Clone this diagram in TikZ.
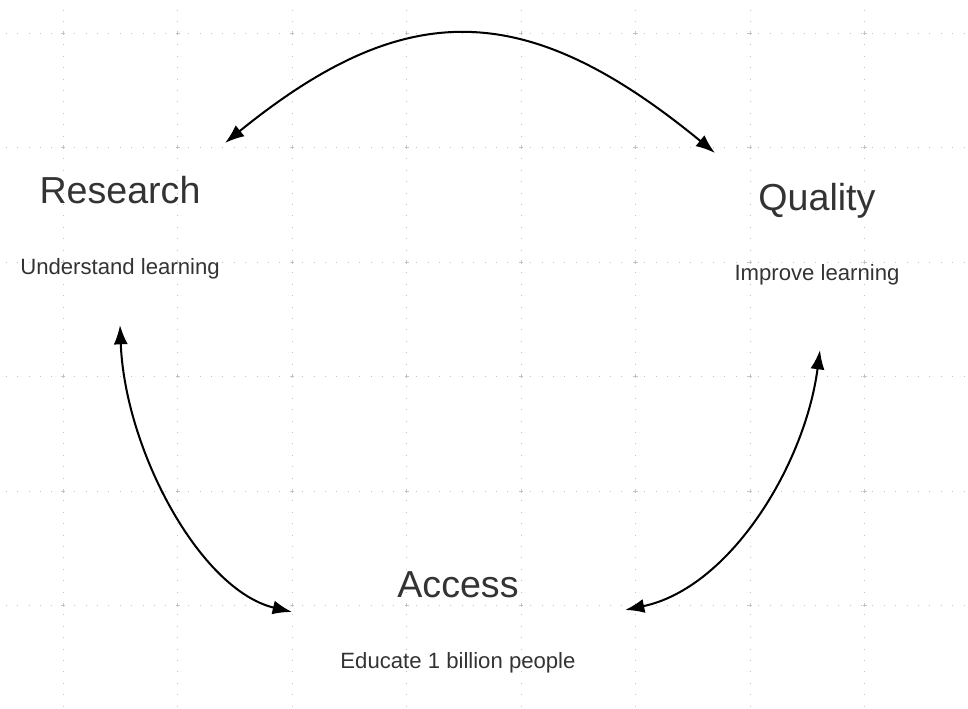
\documentclass[tikz,border=0pt]{standalone}
\usepackage{fontspec}
\setmainfont{Liberation Sans}
\usetikzlibrary{arrows.meta}
\definecolor{textgray}{RGB}{51,51,51}
\definecolor{dotgray}{RGB}{195,195,195}
\tikzset{
  title/.style={anchor=base, text=textgray, inner sep=0pt, font=\fontsize{21.4}{25}\selectfont},
  subtitle/.style={anchor=base, text=textgray, inner sep=0pt, font=\fontsize{12.6}{15}\selectfont},
  cycle/.style={line width=1.15pt, {Latex[length=11pt,width=8pt]}-{Latex[length=11pt,width=8pt]}},
  gridline/.style={dotgray, line width=0.55pt, dash pattern=on 0.55pt off 5.94pt},
}
\begin{document}
\begin{tikzpicture}[x=0.02cm, y=-0.02cm]
	\useasboundingbox (0,0) rectangle (968,709);

	\newcommand*{\gs}{114.5} % grid step

	% dotted grid
	\foreach \i in {0,...,7}
		\draw[gridline] ({63+\i*\gs},10.1) -- ({63+\i*\gs},709);
	\foreach \j in {0,...,5}
		\draw[gridline] (5.75,{33+\j*\gs}) -- (968,{33+\j*\gs});
	\foreach \i in {0,...,7}
		\foreach \j in {0,...,5}
			\draw[dotgray, line width=0.5pt] ({63+\i*\gs-2},{33+\j*\gs}) -- ({63+\i*\gs+2},{33+\j*\gs})
				({63+\i*\gs},{33+\j*\gs-2}) -- ({63+\i*\gs},{33+\j*\gs+2});

	% labels
	\node[title] (research) at (120,204) {Research};
	\node[subtitle] (researchsub) at (120,275) {Understand learning};
	\node[title] (quality) at (817,211) {Quality};
	\node[subtitle] (qualitysub) at (817,281) {Improve learning};
	\node[title] (access) at (458,598) {Access};
	\node[subtitle] (accesssub) at (458,669) {Educate 1 billion people};

	% ends of the arrows
	\coordinate (rtop) at (225,143);
	\coordinate (rbot) at (120,325);
	\coordinate (qtop) at (715,153);
	\coordinate (qbot) at (820,350);
	\coordinate (aleft) at (292,612);
	\coordinate (aright) at (625,610);

	\draw[cycle] (rtop) .. controls (405,-3) and (525,-3) .. (qtop);
	\draw[cycle] (rbot) .. controls (125,450) and (200,590) .. (aleft);
	\draw[cycle] (qbot) .. controls (805,465) and (730,588) .. (aright);
	%\draw (research) -- (access);

\end{tikzpicture}
\end{document}
